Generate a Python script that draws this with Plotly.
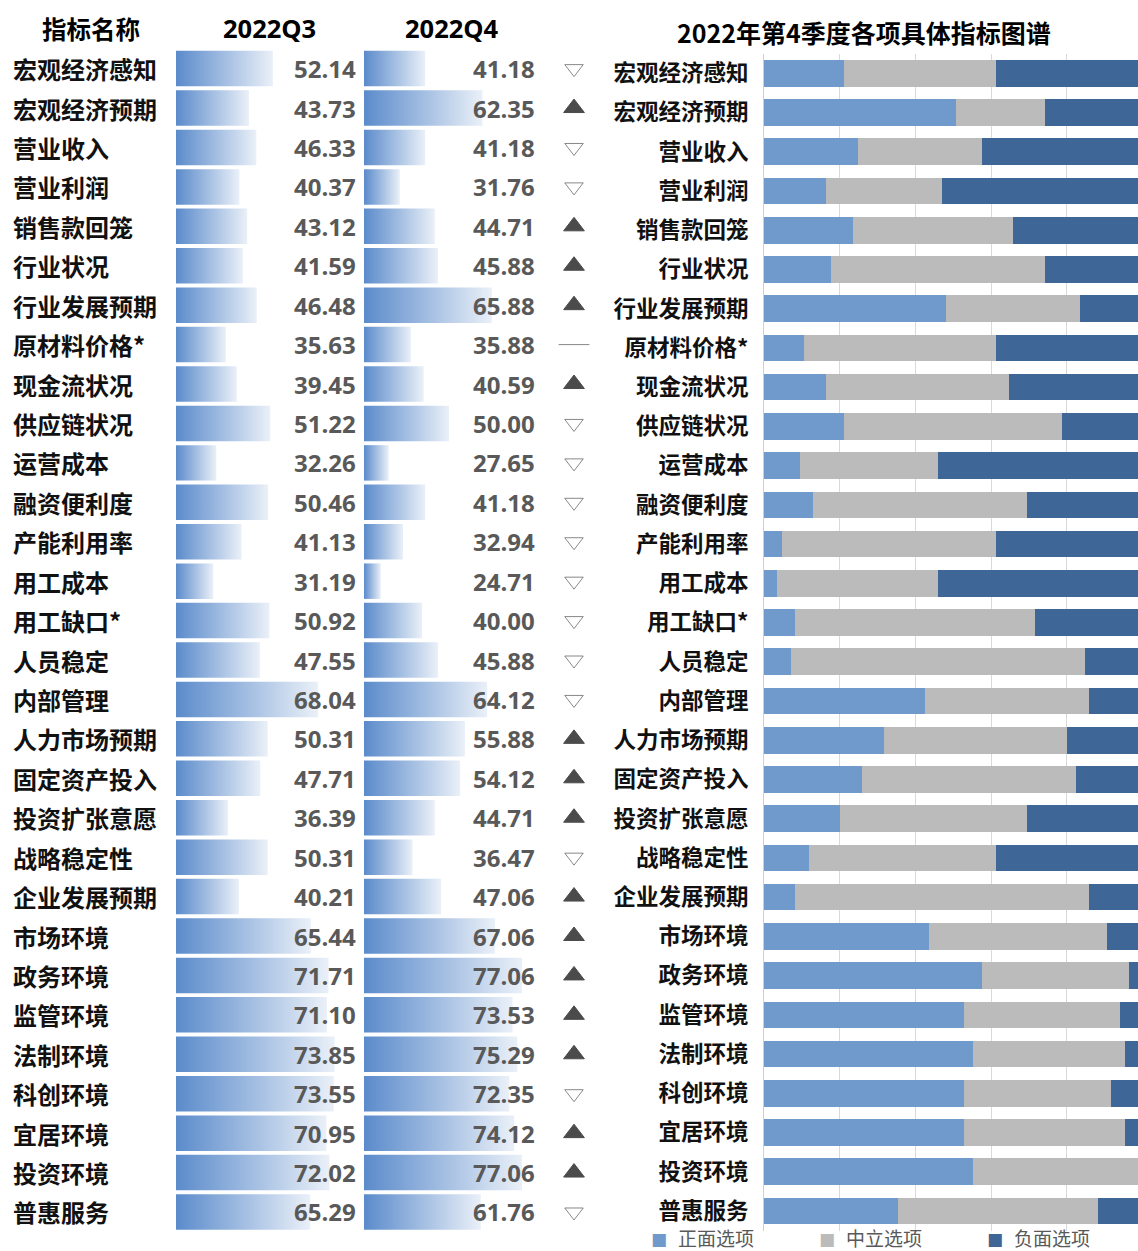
import plotly.graph_objects as go

W, H = 1138, 1251

names = ["宏观经济感知", "宏观经济预期", "营业收入", "营业利润", "销售款回笼", "行业状况",
         "行业发展预期", "原材料价格*", "现金流状况", "供应链状况", "运营成本", "融资便利度",
         "产能利用率", "用工成本", "用工缺口*", "人员稳定", "内部管理", "人力市场预期",
         "固定资产投入", "投资扩张意愿", "战略稳定性", "企业发展预期", "市场环境", "政务环境",
         "监管环境", "法制环境", "科创环境", "宜居环境", "投资环境", "普惠服务"]

q3 = [52.14, 43.73, 46.33, 40.37, 43.12, 41.59, 46.48, 35.63, 39.45, 51.22, 32.26, 50.46,
      41.13, 31.19, 50.92, 47.55, 68.04, 50.31, 47.71, 36.39, 50.31, 40.21, 65.44, 71.71,
      71.10, 73.85, 73.55, 70.95, 72.02, 65.29]

q4 = [41.18, 62.35, 41.18, 31.76, 44.71, 45.88, 65.88, 35.88, 40.59, 50.00, 27.65, 41.18,
      32.94, 24.71, 40.00, 45.88, 64.12, 55.88, 54.12, 44.71, 36.47, 47.06, 67.06, 77.06,
      73.53, 75.29, 72.35, 74.12, 77.06, 61.76]

trend = ["▽", "▲", "▽", "▽", "▲", "▲", "▲", "—", "▲", "▽", "▽", "▽", "▽", "▽", "▽",
         "▽", "▽", "▲", "▲", "▲", "▽", "▲", "▲", "▲", "▲", "▲", "▽", "▲", "▲", "▽"]

# 2022Q4 answer shares (%)
positive = [21.2, 50.6, 24.7, 16.5, 23.5, 17.6, 48.2, 10.6, 16.5, 21.2, 9.4, 12.9, 4.7, 3.5,
            8.2, 7.1, 42.4, 31.8, 25.9, 20.0, 11.8, 8.2, 43.5, 57.6, 52.9, 55.3, 52.9, 52.9,
            55.3, 35.3]
neutral = [40.0, 23.5, 32.9, 30.6, 42.4, 56.5, 35.3, 50.6, 48.2, 57.6, 36.5, 56.5, 56.5, 42.4,
           63.5, 77.6, 43.5, 48.2, 56.5, 49.4, 49.4, 77.6, 47.1, 38.8, 41.2, 40.0, 38.8, 42.4,
           43.5, 52.9]
negative = [38.8, 25.9, 42.4, 52.9, 34.1, 25.9, 16.5, 38.8, 35.3, 21.2, 54.1, 30.6, 38.8, 54.1,
            28.3, 15.3, 14.1, 20.0, 17.6, 30.6, 38.8, 14.1, 9.4, 3.5, 5.9, 4.7, 8.2, 4.7,
            1.2, 11.8]

series_names = ["正面选项", "中立选项", "负面选项"]
series_colors = ["#7099cc", "#bbbbbb", "#3e6697"]
legend_x = [652, 820, 988]   # legend entry positions (px)

# data-bar scale minimums (Excel data bar style)
Q3_MIN, Q3_MAX = 18.1, 82.06
Q4_MIN, Q4_MAX = 18.5, 83.7
BAR_HALF = 0.45
GRAD = [[0, "#5b8bcb"], [1, "#eaf0f8"]]

CJK = "Noto Sans CJK SC"
NUM = "Open Sans"


def px(x):
    return x / W


def py(y):
    return 1 - y / H


fig = go.Figure()

# left gradient data bars
for axis, vals, base in (("x", q3, Q3_MIN), ("x2", q4, Q4_MIN)):
    for i, v in enumerate(vals):
        fig.add_trace(go.Scatter(
            x=[base, v, v, base, base],
            y=[i - BAR_HALF, i - BAR_HALF, i + BAR_HALF, i + BAR_HALF, i - BAR_HALF],
            xaxis=axis, yaxis="y", mode="lines", line=dict(width=0),
            fill="toself", fillgradient=dict(type="horizontal", colorscale=GRAD),
            showlegend=False, hoverinfo="skip"))

# trend markers
sym_map = {"▲": "triangle-up", "▽": "triangle-down-open", "—": "line-ew"}
size_map = {"▲": 18, "▽": 16, "—": 22}
color_map = {"▲": "#000000", "▽": "#555555", "—": "#555555"}
fig.add_trace(go.Scatter(
    x=["trend"] * len(trend), y=list(range(len(trend))), xaxis="x3", yaxis="y",
    mode="markers",
    marker=dict(symbol=[sym_map[t] for t in trend], size=[size_map[t] for t in trend],
                color=[color_map[t] for t in trend],
                line=dict(width=1, color=[color_map[t] for t in trend])),
    showlegend=False, hoverinfo="skip"))

# right stacked bars
for nm, vals, col in zip(series_names, (positive, neutral, negative), series_colors):
    fig.add_trace(go.Bar(
        y=names, x=vals, orientation="h", name=nm, marker=dict(color=col, line=dict(width=0)),
        width=0.68, xaxis="x4", yaxis="y2", hoverinfo="skip", showlegend=False))

ann = []
for i, nm in enumerate(names):
    ann.append(dict(x=px(11), xref="paper", y=i, yref="y", text=nm, showarrow=False,
                    xanchor="left", yanchor="middle",
                    font=dict(family=CJK, size=24, color="#111111", weight="bold")))
    ann.append(dict(x=px(358), xref="paper", y=i, yref="y", text=f"{q3[i]:.2f}",
                    showarrow=False, xanchor="right", yanchor="middle",
                    font=dict(family=NUM, size=24, color="#595959", weight="bold")))
    ann.append(dict(x=px(537), xref="paper", y=i, yref="y", text=f"{q4[i]:.2f}",
                    showarrow=False, xanchor="right", yanchor="middle",
                    font=dict(family=NUM, size=24, color="#595959", weight="bold")))

for txt, cx, fam, sz in (("指标名称", 91, CJK, 24.5), ("2022Q3", 269, NUM, 25.5),
                         ("2022Q4", 452, NUM, 25.5)):
    ann.append(dict(x=px(cx), xref="paper", y=py(28), yref="paper", text=txt, showarrow=False,
                    xanchor="center", yanchor="middle",
                    font=dict(family=fam, size=sz, color="#000000", weight="bold")))
ann.append(dict(x=px(864), xref="paper", y=py(32), yref="paper",
                text="2022年第4季度各项具体指标图谱", showarrow=False,
                xanchor="center", yanchor="middle",
                font=dict(family=CJK, size=25, color="#000000", weight="bold")))

# legend (square key + label)
for nm, col, lx in zip(series_names, series_colors, legend_x):
    ann.append(dict(x=px(lx + 6.5), xref="paper", y=py(1239), yref="paper", text="■",
                    showarrow=False, xanchor="center", yanchor="middle",
                    font=dict(family="DejaVu Sans", size=17, color=col)))
    ann.append(dict(x=px(lx + 24), xref="paper", y=py(1237.5), yref="paper", text=nm,
                    showarrow=False, xanchor="left", yanchor="middle",
                    font=dict(family=CJK, size=19, color="#595959")))

left_dom = [py(1231.7), py(48.9)]
fig.update_layout(
    width=W, height=H, margin=dict(l=0, r=0, t=0, b=0, autoexpand=False),
    paper_bgcolor="white", plot_bgcolor="rgba(0,0,0,0)",
    barmode="stack", bargap=0.32,
    font=dict(family=CJK),
    xaxis=dict(domain=[px(176), px(358)], range=[Q3_MIN, Q3_MAX], visible=False,
               anchor="y", fixedrange=True),
    xaxis2=dict(domain=[px(364), px(540)], range=[Q4_MIN, Q4_MAX], visible=False,
                anchor="y", fixedrange=True),
    xaxis3=dict(domain=[px(550), px(598)], visible=False, anchor="y"),
    yaxis=dict(domain=left_dom, range=[len(names) - 0.5, -0.5], visible=False),
    xaxis4=dict(domain=[px(764), 1.0], range=[0, 98.8], anchor="y2", showgrid=True,
                gridcolor="#d9d9d9", gridwidth=1, dtick=20, tick0=0, showticklabels=False,
                zeroline=False, showline=False, ticks=""),
    yaxis2=dict(domain=[py(1230.6), py(53.7)], anchor="x4", autorange="reversed",
                type="category", categoryorder="array", categoryarray=names,
                showline=True, linecolor="#cfcfcf", linewidth=1, ticks="",
                ticklabelstandoff=10,
                tickfont=dict(family=CJK, size=22.5, color="#111111", weight="bold")),
    annotations=ann,
    showlegend=False,
)

fig.write_html("out.html", config={"displayModeBar": False},
               post_script="document.body.style.margin='0px';")
